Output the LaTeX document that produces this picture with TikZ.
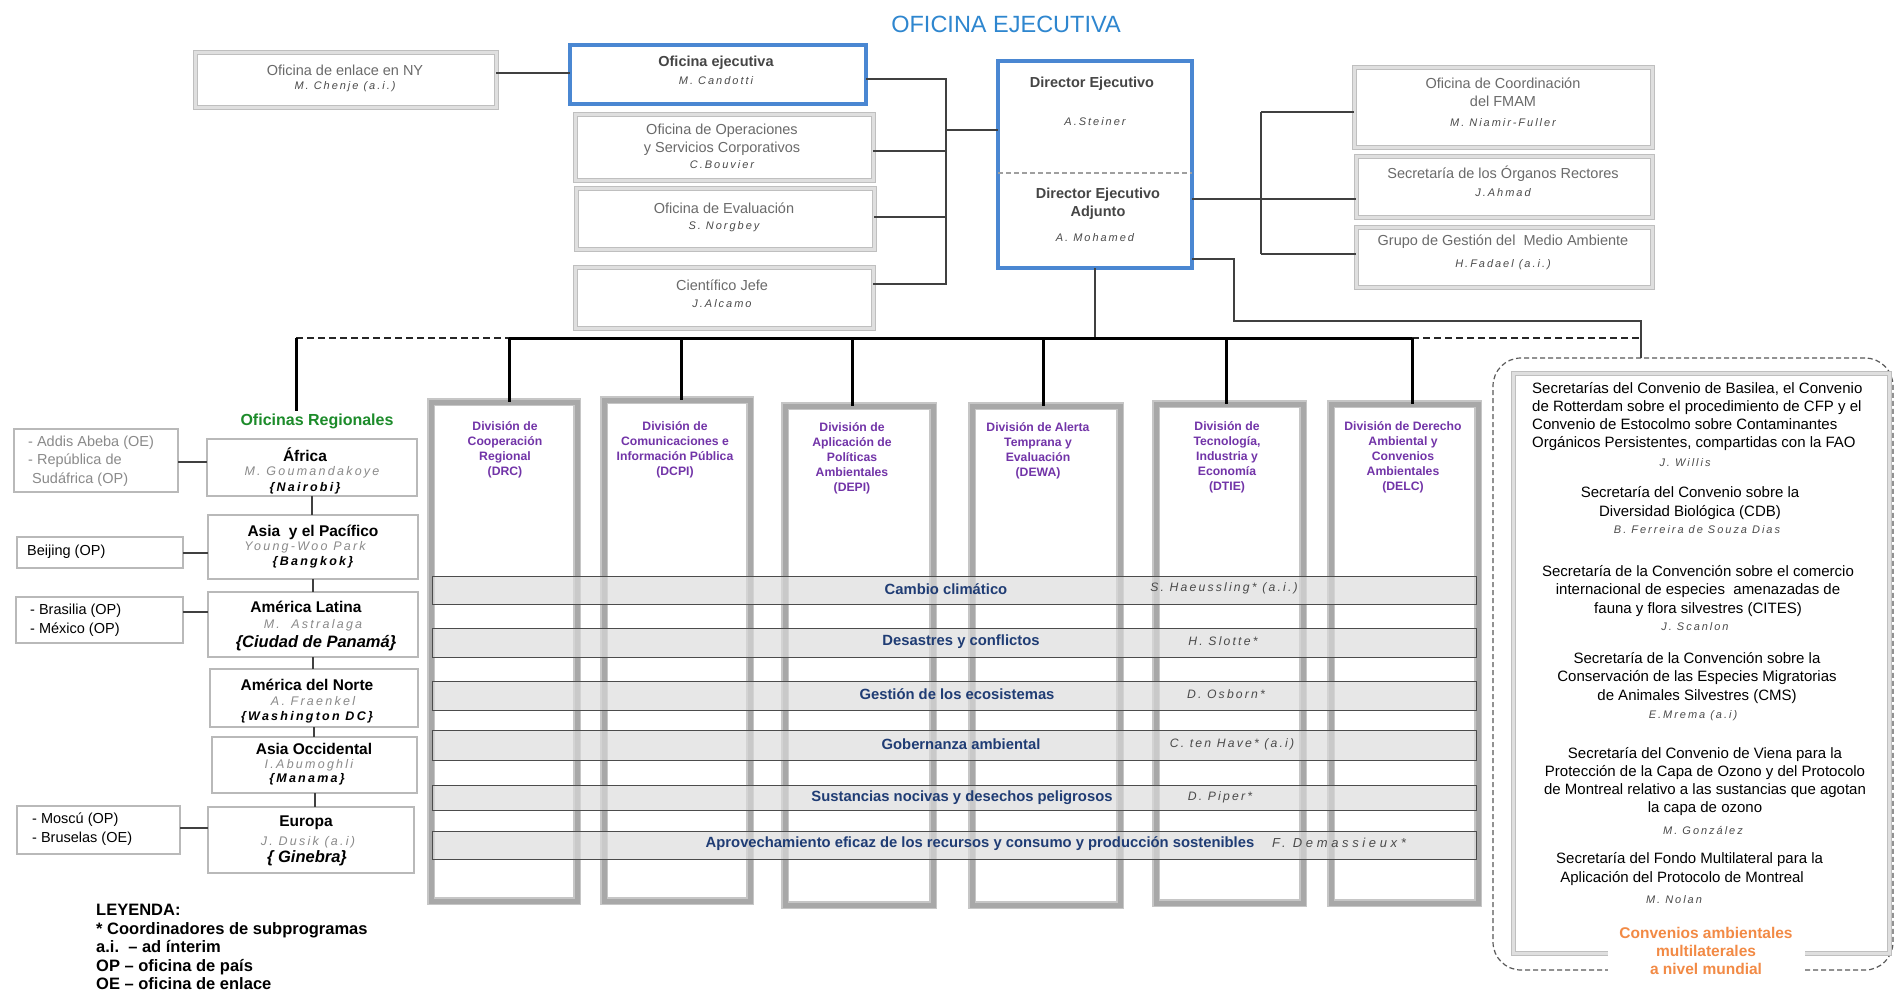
\documentclass[tikz,border=0pt]{standalone}
\usepackage{fontspec}
\setmainfont{Liberation Sans}
\newfontfamily\nmf[LetterSpace=18]{Liberation Sans}
\newfontfamily\wmf[LetterSpace=28]{Liberation Sans}
\usetikzlibrary{calc}
\definecolor{tgray}{HTML}{6A6A6A}
\definecolor{dgray}{HTML}{454545}
\definecolor{ngray}{HTML}{4A4A4A}
\definecolor{lgray}{HTML}{8A8A8A}
\definecolor{tblue}{HTML}{2E86CF}
\definecolor{bblue}{HTML}{4A87D2}
\definecolor{purp}{HTML}{7234A8}
\definecolor{navy}{HTML}{1F3C74}
\definecolor{rgreen}{HTML}{1C8B2A}
\definecolor{orng}{HTML}{F28A45}
\newcommand\fs[2]{\fontsize{#1}{#2}\selectfont}
\newcommand\bx[6]{\node[#1, minimum width={(#4)-(#2)}, minimum height={(#5)-(#3)}] (#6) at ({((#2)+(#4))/2},{((#3)+(#5))/2}) {};}
\begin{document}
\begin{tikzpicture}[x=1pt,y=-1pt,
 gbox/.style={draw=gray!50, line width=1pt, double=gray!25, double distance=3pt, fill=white, inner sep=0pt, outer sep=0pt},
 bluebox/.style={draw=bblue, line width=4pt, fill=white, inner sep=0pt, outer sep=0pt},
 colbox/.style={draw=gray!45, line width=1.2pt, double=gray!68, double distance=5pt, fill=white, inner sep=0pt, outer sep=0pt},
 regbox/.style={draw=gray!55, line width=2.5pt, fill=white, inner sep=0pt, outer sep=0pt},
 lbox/.style={draw=gray!55, line width=2pt, fill=white, inner sep=0pt, outer sep=0pt},
 band/.style={draw=black!70, line width=1pt, fill=gray!28, fill opacity=0.65, inner sep=0pt, outer sep=0pt},
 cdash/.style={draw=black!65, line width=1.2pt, dash pattern=on 5pt off 3pt, rounded corners=28pt, inner sep=0pt, outer sep=0pt},
 conn/.style={draw=black!75, line width=2pt},
 bus/.style={draw=black, line width=3pt},
 dbus/.style={draw=black!85, line width=2.5pt, dash pattern=on 7pt off 4pt},
 tt/.style={font=\fs{14.5}{18}, text=tgray, inner sep=0pt, align=center},
 bt/.style={font=\bfseries\fs{14.5}{18}, text=dgray, inner sep=0pt, align=center},
 nm/.style={font=\nmf\itshape\fs{11}{13}, text=ngray, inner sep=0pt},
 bn/.style={font=\nmf\itshape\fs{12.2}{14}, text=ngray, inner sep=0pt},
 dv/.style={font=\bfseries\fs{12.2}{15}, text=purp, inner sep=0pt, align=center},
 bd/.style={font=\bfseries\fs{14.8}{16}, text=navy, inner sep=0pt},
 rt/.style={font=\bfseries\fs{15.5}{17}, text=black, inner sep=0pt},
 rn/.style={font=\nmf\itshape\fs{12.5}{14}, text=lgray, inner sep=0pt},
 rc/.style={font=\nmf\bfseries\itshape\fs{12.5}{14}, text=black, inner sep=0pt},
 rcb/.style={font=\bfseries\itshape\fs{16.5}{18}, text=black, inner sep=0pt},
 lt/.style={font=\fs{14.5}{18.5}, align=left, anchor=west, inner sep=0pt},
 ct/.style={font=\fs{15}{18.3}, inner sep=0pt}]
\useasboundingbox (0,0) rectangle (1897,991);
\fill[white] (0,0) rectangle (1897,991);

% ---------- title
\node[font=\fs{23.5}{26}, text=tblue, inner sep=0pt] (title) at (1006,24) {OFICINA EJECUTIVA};

% ---------- top left boxes
\bx{gbox}{195}{52}{496}{107}{ny}
\node[tt] (nyt) at (345,70) {Oficina de enlace en NY};
\node[nm] (nyn) at (345,87) {M. Chenje (a.i.)};

\bx{bluebox}{570}{45}{866}{104}{oe}
\node[bt] (oet) at (716,63) {Oficina ejecutiva};
\node[nm] (oen) at (716,81) {M. Candotti};

\bx{gbox}{575}{114}{873}{180}{ops}
\node[tt] (opst) at (722,140) {Oficina de Operaciones\\y Servicios Corporativos};
\node[nm] (opsn) at (722,165) {C.Bouvier};

\bx{gbox}{576}{188}{874}{249}{ev}
\node[tt] (evt) at (724,208) {Oficina de Evaluación};
\node[nm] (evn) at (724,227) {S. Norgbey};

\bx{gbox}{575}{267}{873}{328}{cj}
\node[tt] (cjt) at (722,285) {Científico Jefe};
\node[nm] (cjn) at (722,304) {J.Alcamo};

% ---------- director
\bx{bluebox}{998}{61}{1192}{268}{de}
\draw[gray!75, line width=1.5pt, dash pattern=on 5pt off 3pt] (de.west |- 0,173) -- (de.east |- 0,173);
\node[bt] (det1) at (1092,84) {Director Ejecutivo};
\node[nm] (den1) at (1095,122) {A.Steiner};
\node[bt] (det2) at (1098,204) {Director Ejecutivo\\Adjunto};
\node[nm] (den2) at (1095,238) {A. Mohamed};

% ---------- top right boxes
\bx{gbox}{1354}{67}{1652}{147}{fm}
\node[tt] (fmt) at (1503,92) {Oficina de Coordinación\\del FMAM};
\node[nm] (fmn) at (1503,123) {M. Niamir-Fuller};
\bx{gbox}{1356}{156}{1652}{217}{org}
\node[tt] (orgt) at (1503,174) {Secretaría de los Órganos Rectores};
\node[nm] (orgn) at (1503,193) {J.Ahmad};
\bx{gbox}{1356}{227}{1652}{287}{grp}
\node[tt] (grpt) at (1503,242) {Grupo de Gestión del\ \ Medio Ambiente};
\node[nm] (grpn) at (1503,265) {H.Fadael (a.i.)};

% ---------- top connectors
\draw[conn] (ny.east |- 0,73) -- (oe.west |- 0,73);
\coordinate (va) at (946,79);
\coordinate (ve) at (946,130);
\coordinate (vc) at (946,151);
\coordinate (vd) at (946,217);
\coordinate (vb) at (946,284);
\draw[conn] (oe.east |- va) -- (va) -- (vb) -- (cj.east |- vb);
\draw[conn] (ops.east |- vc) -- (vc);
\draw[conn] (ev.east |- vd) -- (vd);
\draw[conn] (ve) -- (de.west |- ve);

\coordinate (ra) at (1261,112);
\coordinate (rb) at (1261,199);
\coordinate (rc) at (1261,254);
\draw[conn] (de.east |- rb) -- (rb);
\draw[conn] (ra) -- (rc);
\draw[conn] (ra) -- (fm.west |- ra);
\draw[conn] (rb) -- (org.west |- rb);
\draw[conn] (rc) -- (grp.west |- rc);

% ---------- right dashed convention box
\bx{cdash}{1493}{358}{1893}{970}{cout}
\bx{gbox}{1513}{373}{1889}{953}{conv}
\coordinate (s1) at (1234,259);
\coordinate (s2) at (1234,321);
\coordinate (s3) at (1641,321);
\draw[conn] (de.east |- s1) -- (s1) -- (s2) -- (s3) -- (s3 |- cout.north);

% ---------- bus
\coordinate (b0) at (296,338);
\coordinate (b1) at (509,338);
\coordinate (b2) at (681,338);
\coordinate (b3) at (852,338);
\coordinate (b4) at (1043,338);
\coordinate (b5) at (1226,338);
\coordinate (b6) at (1412,338);
\coordinate (bE) at (1641,338);
\draw[conn] (de.south) -- (de.south |- b1);
\draw[dbus] (b0) -- (b1);
\draw[dbus] (b6) -- (bE);
\draw[bus] (b1) -- (b6);

% ---------- division columns
\bx{colbox}{431}{402}{577}{901}{drc}
\bx{colbox}{604}{400}{750}{901}{dcpi}
\bx{colbox}{785}{406}{933}{905}{depi}
\bx{colbox}{972}{406}{1120}{905}{dewa}
\bx{colbox}{1156}{404}{1303}{903}{dtie}
\bx{colbox}{1331}{404}{1478}{903}{delc}
\draw[bus] (b1) -- (b1 |- drc.north);
\draw[bus] (b2) -- (b2 |- dcpi.north);
\draw[bus] (b3) -- (b3 |- depi.north);
\draw[bus] (b4) -- (b4 |- dewa.north);
\draw[bus] (b5) -- (b5 |- dtie.north);
\draw[bus] (b6) -- (b6 |- delc.north);

\node[dv] (drct) at (505,450) {División de\\Cooperación\\Regional\\(DRC)};
\node[dv] (dcpit) at (675,450) {División de\\Comunicaciones e\\Información Pública\\(DCPI)};
\node[dv] (depit) at (852,458) {División de\\Aplicación de\\Políticas\\Ambientales\\(DEPI)};
\node[dv] (dewat) at (1038,451) {División de Alerta\\Temprana y\\Evaluación\\(DEWA)};
\node[dv] (dtiet) at (1227,457) {División de\\Tecnología,\\Industria y\\Economía\\(DTIE)};
\node[dv] (delct) at (1403,457) {División de Derecho\\Ambiental y\\Convenios\\Ambientales\\(DELC)};

% ---------- subprogramme bands
\bx{band}{432}{576}{1476}{604}{p1}
\bx{band}{432}{628}{1476}{657}{p2}
\bx{band}{432}{681}{1476}{710}{p3}
\bx{band}{432}{730}{1476}{760}{p4}
\bx{band}{432}{785}{1476}{810}{p5}
\bx{band}{432}{831}{1476}{859}{p6}
\node[bd] (p1t) at (946,589) {Cambio climático};
\node[bn] (p1n) at (1224,588) {S. Haeussling* (a.i.)};
\node[bd] (p2t) at (961,642) {Desastres y conflictos};
\node[bn] (p2n) at (1223,641) {H. Slotte*};
\node[bd] (p3t) at (957,694) {Gestión de los ecosistemas};
\node[bn] (p3n) at (1226,694) {D. Osborn*};
\node[bd] (p4t) at (961,744) {Gobernanza ambiental};
\node[bn] (p4n) at (1232,744) {C. ten Have* (a.i)};
\node[bd] (p5t) at (962,798) {Sustancias nocivas y desechos peligrosos};
\node[bn] (p5n) at (1220,797) {D. Piper*};
\node[bd] (p6t) at (980,844) {Aprovechamiento eficaz de los recursos y consumo y producción sostenibles};
\node[font=\wmf\itshape\fs{13}{14}, text=ngray, inner sep=0pt] (p6n) at (1339,843) {F. Demassieux*};

% ---------- regional offices
\node[font=\bfseries\fs{16}{18}, text=rgreen, inner sep=2pt] (regl) at (317,421) {Oficinas Regionales};
\draw[bus] (b0) -- (b0 |- regl.north);

\bx{regbox}{207}{439}{417}{496}{afr}
\node[rt] (afrt) at (305,455) {África};
\node[rn] (afrn) at (312,472) {M. Goumandakoye};
\node[rc] (afrc) at (305,488) {\{Nairobi\}};

\bx{regbox}{208}{515}{418}{579}{asp}
\node[rt] (aspt) at (313,532) {Asia\ \ y el Pacífico};
\node[rn] (aspn) at (305,547) {Young-Woo Park};
\node[rc] (aspc) at (313,562) {\{Bangkok\}};

\bx{regbox}{208}{592}{418}{657}{ala}
\node[rt] (alat) at (306,607) {América Latina};
\node[rn] (alan) at (313,625) {M.\ \ Astralaga};
\node[rcb] (alac) at (316,643) {\{Ciudad de Panamá\}};

\bx{regbox}{210}{669}{418}{727}{ano}
\node[rt] (anot) at (307,685) {América del Norte};
\node[rn] (anon) at (313,701) {A. Fraenkel};
\node[rc] (anoc) at (307,717) {\{Washington DC\}};

\bx{regbox}{212}{737}{417}{793}{aoc}
\node[rt] (aoct) at (314,749) {Asia Occidental};
\node[rn] (aocn) at (309,765) {I.Abumoghli};
\node[rc] (aocc) at (307,779) {\{Manama\}};

\bx{regbox}{208}{807}{414}{873}{eur}
\node[rt] (eurt) at (306,823) {Europa};
\node[rn] (eurn) at (308,842) {J. Dusik (a.i)};
\node[rcb] (eurc) at (307,858) {\{ Ginebra\}};

\draw[conn] (afr.south) -- (afr.south |- asp.north);
\draw[conn] (asp.south) -- (asp.south |- ala.north);
\draw[conn] (ala.south) -- (ala.south |- ano.north);
\draw[conn] (ano.south) -- (ano.south |- aoc.north);
\draw[conn] (aoc.south) -- (aoc.south |- eur.north);

% ---------- country / liaison offices
\bx{lbox}{14}{429}{178}{492}{addis}
\node[lt, text=lgray] (addist) at (28,461) {- Addis Abeba (OE)\\- República de\\\ Sudáfrica (OP)};
\bx{lbox}{17}{537}{183}{568}{bei}
\node[lt] (beit) at (27,552) {Beijing (OP)};
\bx{lbox}{16}{597}{183}{643}{bra}
\node[lt] (brat) at (30,620) {- Brasilia (OP)\\- México (OP)};
\bx{lbox}{17}{806}{180}{854}{mos}
\node[lt] (most) at (32,829) {- Moscú (OP)\\- Bruselas (OE)};

\draw[conn] (addis.east |- 0,462) -- (afr.west |- 0,462);
\draw[conn] (bei.east |- 0,553) -- (asp.west |- 0,553);
\draw[conn] (bra.east |- 0,612) -- (ala.west |- 0,612);
\draw[conn] (mos.east |- 0,828) -- (eur.west |- 0,828);

% ---------- legend
\node[font=\bfseries\fs{16.5}{18.6}, align=left, anchor=north west, inner sep=0pt] (leg) at (96,904)
 {LEYENDA:\\* Coordinadores de subprogramas\\a.i.\ \ – ad ínterim\\OP – oficina de país\\OE – oficina de enlace};

% ---------- convention texts
\node[ct, align=left, anchor=west] (c1) at (1532,416.5) {Secretarías del Convenio de Basilea, el Convenio\\de Rotterdam sobre el procedimiento de CFP y el\\Convenio de Estocolmo sobre Contaminantes\\Orgánicos Persistentes, compartidas con la FAO};
\node[nm] (c1n) at (1685,463) {J. Willis};
\node[ct, align=center] (c2) at (1690,503) {Secretaría del Convenio sobre la\\Diversidad Biológica (CDB)};
\node[nm] (c2n) at (1697,530) {B. Ferreira de Souza Dias};
\node[ct, align=center] (c3) at (1698,591) {Secretaría de la Convención sobre el comercio\\internacional de especies\ \ amenazadas de\\fauna y flora silvestres (CITES)};
\node[nm] (c3n) at (1695,627) {J. Scanlon};
\node[ct, align=center] (c4) at (1697,678) {Secretaría de la Convención sobre la\\Conservación de las Especies Migratorias\\de Animales Silvestres (CMS)};
\node[nm] (c4n) at (1693,716) {E.Mrema (a.i)};
\node[ct, align=center] (c5) at (1705,781.5) {Secretaría del Convenio de Viena para la\\Protección de la Capa de Ozono y del Protocolo\\de Montreal relativo a las sustancias que agotan\\la capa de ozono};
\node[nm] (c5n) at (1703,830) {M. González};
\node[ct, align=left, anchor=west] (c6) at (1556,869) {Secretaría del Fondo Multilateral para la\\\ Aplicación del Protocolo de Montreal};
\node[nm] (c6n) at (1674,900) {M. Nolan};
\node[font=\bfseries\fs{15.5}{18}, text=orng, fill=white, align=center, minimum width=197, inner sep=2pt] (cvt) at (1706,951) {Convenios ambientales\\multilaterales\\a nivel mundial};
\end{tikzpicture}
\end{document}
